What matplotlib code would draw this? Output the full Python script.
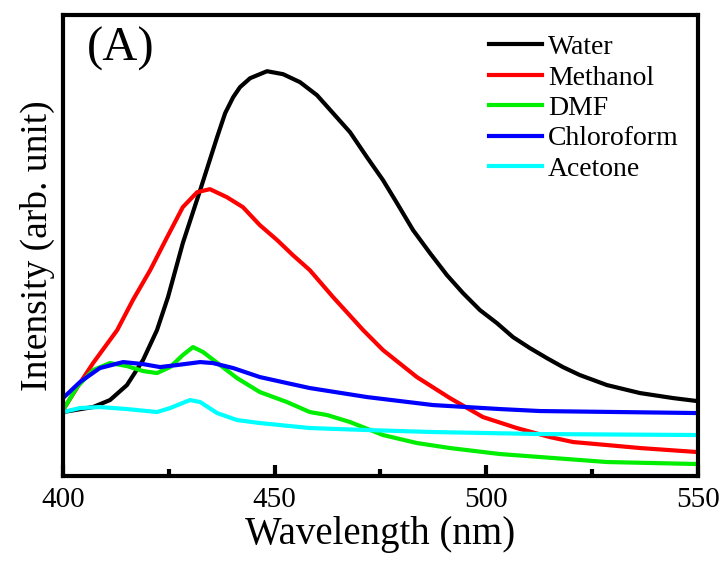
import matplotlib
matplotlib.use("Agg")
import numpy as np
import matplotlib.pyplot as plt
from matplotlib.ticker import MultipleLocator

plt.rcParams['font.family'] = ['Liberation Serif', 'DejaVu Serif']

# emission spectra (wavelength in nm, intensity arb.)
water_wl = [400.0, 407.1, 411.1, 415.1, 418.9, 422.2, 424.8, 428.3, 432.4, 436.4,
            438.3, 440.2, 441.8, 444.2, 448.2, 452.0, 456.0, 460.0, 463.8, 467.8,
            471.8, 475.6, 478.9, 482.7, 486.7, 490.7, 494.5, 498.5, 502.5, 506.3,
            510.3, 514.3, 518.1, 522.1, 528.5, 536.3, 544.1, 549.8]
water_int = [64, 69, 76, 91, 116, 146, 179, 233, 286, 339,
             363, 379, 389, 398, 405, 402, 394, 381, 363, 344,
             319, 296, 273, 246, 223, 201, 183, 166, 153, 139,
             128, 118, 109, 101, 91, 83, 78, 75]

methanol_wl = [400.0, 404.0, 407.1, 412.8, 416.5, 420.6, 424.6, 428.3, 431.7, 434.7,
               438.7, 442.5, 446.5, 450.6, 454.3, 458.3, 463.8, 470.9, 475.6, 483.6,
               491.4, 499.2, 507.2, 515.0, 520.5, 528.5, 536.3, 549.8]
methanol_int = [66, 93, 113, 146, 176, 206, 239, 269, 284, 287,
                279, 269, 251, 236, 221, 206, 179, 146, 126, 99,
                78, 59, 48, 39, 34, 31, 28, 24]

dmf_wl = [400.0, 403.3, 407.1, 411.1, 415.1, 418.9, 422.2, 425.3, 428.3, 430.7,
          433.1, 437.1, 441.1, 446.5, 452.9, 458.3, 462.4, 467.8, 475.6, 483.6,
          491.4, 503.2, 512.7, 528.5, 549.8]
dmf_int = [66, 89, 106, 113, 110, 105, 103, 109, 121, 129,
           124, 111, 98, 84, 74, 64, 61, 54, 41, 33,
           28, 22, 19, 14, 12]

chloro_wl = [400.0, 404.0, 408.7, 414.2, 418.9, 422.9, 426.9, 432.4, 435.4, 440.2,
             446.5, 452.9, 458.3, 471.8, 487.4, 503.2, 512.7, 549.8]
chloro_int = [78, 94, 108, 114, 112, 109, 111, 114, 113, 108,
              99, 93, 88, 79, 71, 67, 65, 63]

acetone_wl = [400.0, 404.0, 408.7, 415.1, 422.2, 425.3, 430.0, 432.4, 436.4, 441.1,
              446.5, 458.3, 471.8, 487.4, 512.7, 549.8]
acetone_int = [64, 68, 69, 67, 64, 68, 76, 74, 63, 56,
               53, 48, 46, 44, 42, 41]

series = [
    ("Water", water_wl, water_int, "black"),
    ("Methanol", methanol_wl, methanol_int, "#ff0000"),
    ("DMF", dmf_wl, dmf_int, "#00ee00"),
    ("Chloroform", chloro_wl, chloro_int, "#0000ff"),
    ("Acetone", acetone_wl, acetone_int, "#00ffff"),
]

fig = plt.figure(figsize=(7.27, 5.64), dpi=100)
ax = fig.add_axes([0.0867, 0.156, 0.8733, 0.817])

for name, wl, inten, col in series:
    ax.plot(wl, inten, color=col, lw=3, label=name, solid_joinstyle='round')

ax.set_xlim(400, 550)
ax.set_ylim(0, 461)
ax.xaxis.set_major_locator(MultipleLocator(50))
ax.xaxis.set_minor_locator(MultipleLocator(25))
ax.set_yticks([])
ax.tick_params(axis='x', which='major', direction='in', length=8, width=3,
               labelsize=21, pad=8)
ax.tick_params(axis='x', which='minor', direction='in', length=5, width=3)
for s in ax.spines.values():
    s.set_linewidth(3)

ax.set_xlabel("Wavelength (nm)", fontsize=28, labelpad=2)
ax.set_ylabel("Intensity (arb. unit)", fontsize=27, labelpad=6)
ax.text(0.038, 0.975, "(A)", transform=ax.transAxes, fontsize=35,
        va='top', ha='left')

leg = ax.legend(loc='upper right', bbox_to_anchor=(1.0, 1.0), fontsize=20,
                frameon=False, handlelength=1.9, handletextpad=0.2,
                labelspacing=0.18, borderaxespad=0.3)
for h in leg.get_lines():
    h.set_linewidth(3)

fig.savefig("out.png", dpi=100)
